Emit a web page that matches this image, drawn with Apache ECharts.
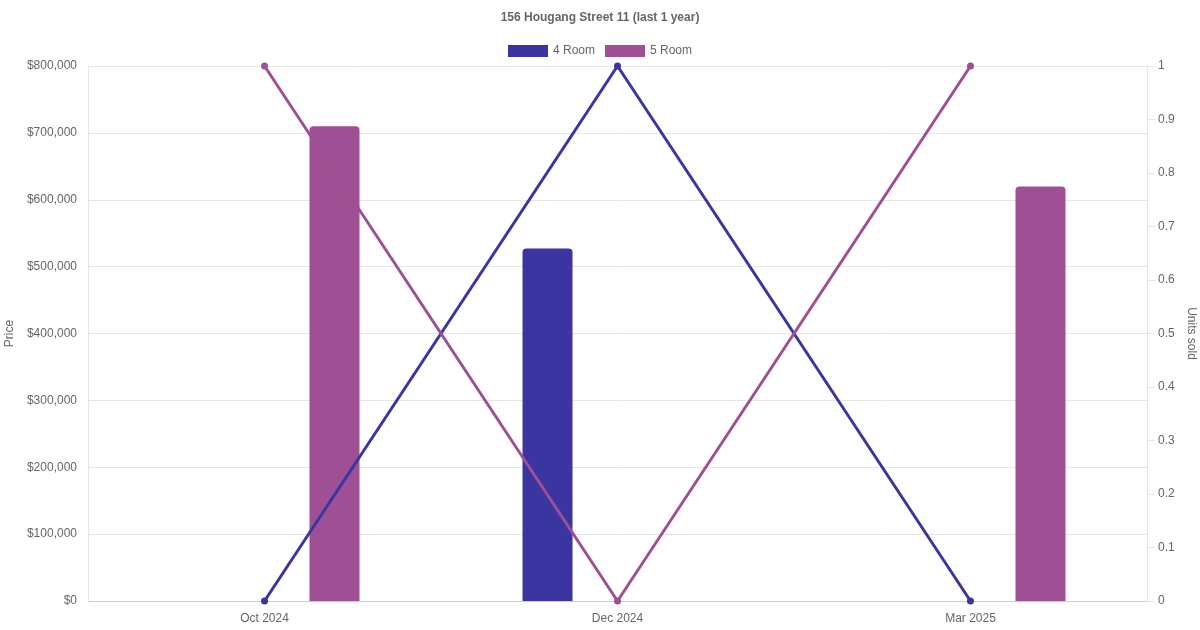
<!DOCTYPE html>
<html>
<head>
<meta charset="utf-8">
<script src="https://cdn.jsdelivr.net/npm/echarts@6/dist/echarts.min.js"></script>
<style>html,body{margin:0;padding:0;background:#fff}#c{width:1200px;height:630px}</style>
</head>
<body>
<div id="c"></div>
<script>
var categories = ['Oct 2024', 'Dec 2024', 'Mar 2025'];
var price4Room = [null, 527000, null];
var price5Room = [710000, null, 620000];
var units4Room = [0, 1, 0];
var units5Room = [1, 0, 1];
var seriesNames = ['4 Room', '5 Room'];
var colors = ['#3b35a1', '#9f5094'];

var chart = echarts.init(document.getElementById('c'), null, {renderer: 'canvas'});
var font = 'Liberation Sans, Arial, sans-serif';
chart.setOption({
  animation: false,
  textStyle: {fontFamily: font},
  title: {
    text: '156 Hougang Street 11 (last 1 year)',
    left: 'center', top: 7,
    textStyle: {fontSize: 12, fontWeight: 'bold', color: '#666', fontFamily: font}
  },
  legend: {
    top: 40, left: 'center',
    data: seriesNames,
    icon: 'rect', itemWidth: 40, itemHeight: 12, itemGap: 10,
    textStyle: {fontSize: 12, color: '#666', fontFamily: font}
  },
  grid: {left: 88, right: 53, top: 66, bottom: 29, containLabel: false, outerBoundsMode: 'none'},
  xAxis: {
    type: 'category', data: categories, boundaryGap: true,
    axisLine: {lineStyle: {color: '#ccc'}},
    axisTick: {show: false},
    axisLabel: {color: '#666', fontSize: 12, margin: 12, fontFamily: font},
    splitLine: {show: false}
  },
  yAxis: [{
    type: 'value', min: 0, max: 800000, interval: 100000,
    name: 'Price', nameLocation: 'middle', nameRotate: 90, nameGap: 67,
    nameTextStyle: {color: '#666', fontSize: 12, fontFamily: font},
    axisLine: {show: true, lineStyle: {color: '#e5e5e5'}},
    axisTick: {show: false},
    axisLabel: {color: '#666', fontSize: 12, margin: 11, fontFamily: font,
      formatter: function (v) { return '$' + v.toLocaleString('en-US'); }},
    splitLine: {lineStyle: {color: '#e5e5e5'}}
  }, {
    type: 'value', min: 0, max: 1, interval: 0.1, position: 'right',
    name: 'Units sold', nameLocation: 'middle', nameRotate: -90, nameGap: 34,
    nameTextStyle: {color: '#666', fontSize: 12, fontFamily: font},
    axisLine: {show: true, lineStyle: {color: '#e5e5e5'}},
    axisTick: {show: true, length: 8, lineStyle: {color: '#e5e5e5'}},
    axisLabel: {color: '#666', fontSize: 12, margin: 11, fontFamily: font},
    splitLine: {show: false}
  }],
  series: [{
    name: seriesNames[0], type: 'bar', yAxisIndex: 0, data: price4Room,
    barWidth: 50, barGap: '180%', z: 2,
    itemStyle: {color: colors[0], borderRadius: [4, 4, 0, 0]}
  }, {
    name: seriesNames[1], type: 'bar', yAxisIndex: 0, data: price5Room,
    barWidth: 50, barGap: '180%', z: 2,
    itemStyle: {color: colors[1], borderRadius: [4, 4, 0, 0]}
  }, {
    name: seriesNames[0], type: 'line', yAxisIndex: 1, data: units4Room,
    symbol: 'circle', symbolSize: 7, z: 5,
    lineStyle: {color: colors[0], width: 3}, itemStyle: {color: colors[0]}
  }, {
    name: seriesNames[1], type: 'line', yAxisIndex: 1, data: units5Room,
    symbol: 'circle', symbolSize: 7, z: 5,
    lineStyle: {color: colors[1], width: 3}, itemStyle: {color: colors[1]}
  }]
});
</script>
</body>
</html>
